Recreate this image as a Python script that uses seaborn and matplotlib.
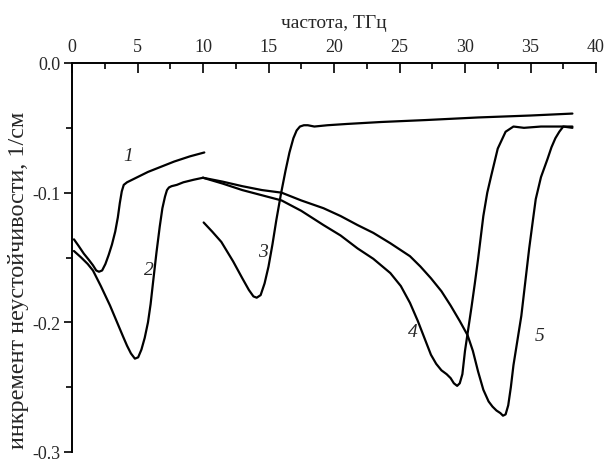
import matplotlib
matplotlib.use("Agg")
import matplotlib.pyplot as plt
import seaborn as sns
from matplotlib.ticker import MultipleLocator

sns.set_theme(style="white")
plt.rcParams['font.family'] = ['Liberation Serif', 'DejaVu Serif']

# ---- data ----
x1 = [0.15, 0.5, 0.9, 1.3, 1.6, 1.85, 2.06, 2.3, 2.55, 2.8, 3.05, 3.3, 3.5, 3.65, 3.8,
      3.95, 4.2, 4.6, 5.2, 5.8, 6.8, 7.8, 9.0, 10.1]
y1 = [-0.136, -0.141, -0.147, -0.152, -0.156, -0.160, -0.161, -0.160, -0.155, -0.148,
      -0.140, -0.130, -0.119, -0.108, -0.099, -0.094, -0.092, -0.090, -0.087, -0.084,
      -0.080, -0.076, -0.072, -0.069]

x2 = [0.15, 0.7, 1.2, 1.6, 2.2, 2.9, 3.4, 3.9, 4.2, 4.5, 4.8, 5.05, 5.3, 5.55, 5.8, 6.0,
      6.2, 6.45, 6.7, 6.9, 7.1, 7.25, 7.4, 7.6, 8.0, 8.5, 9.3, 10.0]
y2 = [-0.145, -0.150, -0.155, -0.160, -0.172, -0.187, -0.199, -0.211, -0.218, -0.224,
      -0.228, -0.227, -0.221, -0.212, -0.200, -0.186, -0.168, -0.146, -0.126, -0.112,
      -0.103, -0.098, -0.096, -0.095, -0.094, -0.092, -0.090, -0.0885]

x3 = [10.05, 10.7, 11.4, 12.3, 13.0, 13.5, 13.85, 14.1, 14.4, 14.7, 15.0, 15.3, 15.6,
      15.95, 16.3, 16.6, 16.9, 17.15, 17.4, 17.7, 18.0, 18.5, 19.5, 21.0, 23.6, 27.0,
      31.0, 35.0, 38.2]
y3 = [-0.123, -0.130, -0.138, -0.153, -0.166, -0.175, -0.180, -0.181, -0.179, -0.170,
      -0.157, -0.140, -0.121, -0.101, -0.083, -0.069, -0.058, -0.052, -0.049, -0.048,
      -0.048, -0.049, -0.048, -0.047, -0.0455, -0.044, -0.042, -0.0405, -0.039]

x4 = [10.0, 11.5, 13.0, 14.5, 16.0, 17.5, 19.2, 20.5, 21.8, 23.0, 24.3, 25.1, 25.8,
      26.4, 26.9, 27.4, 27.8, 28.2, 28.6, 28.9, 29.15, 29.4, 29.6, 29.8, 30.0, 30.25,
      30.5, 30.75, 31.0, 31.4, 31.7, 32.0, 32.5, 33.1, 33.7, 34.5, 35.8, 38.2]
y4 = [-0.0885, -0.093, -0.098, -0.102, -0.106, -0.114, -0.125, -0.133, -0.143, -0.151,
      -0.162, -0.172, -0.185, -0.199, -0.212, -0.225, -0.232, -0.237, -0.240, -0.243,
      -0.247, -0.249, -0.247, -0.240, -0.222, -0.205, -0.188, -0.170, -0.151, -0.118,
      -0.100, -0.087, -0.066, -0.053, -0.049, -0.050, -0.049, -0.049]

x5 = [10.0, 11.5, 13.0, 14.5, 16.0, 17.5, 19.2, 20.5, 21.8, 23.0, 24.3, 25.8, 26.6,
      27.4, 28.2, 28.9, 29.6, 30.2, 30.6, 31.0, 31.4, 31.8, 32.1, 32.4, 32.7, 32.9, 33.1,
      33.3, 33.5, 33.7, 34.0, 34.3, 34.6, 34.9, 35.2, 35.4, 35.8, 36.3, 36.6, 36.9, 37.2,
      37.5, 38.2]
y5 = [-0.0885, -0.0915, -0.095, -0.098, -0.100, -0.106, -0.112, -0.118, -0.125, -0.131,
      -0.139, -0.149, -0.157, -0.166, -0.176, -0.187, -0.199, -0.210, -0.222, -0.238,
      -0.252, -0.261, -0.265, -0.268, -0.270, -0.272, -0.271, -0.264, -0.250, -0.233,
      -0.214, -0.195, -0.169, -0.143, -0.120, -0.105, -0.088, -0.074, -0.065, -0.058,
      -0.053, -0.049, -0.050]

curve_labels = ["1", "2", "3", "4", "5"]
label_x = [4.3, 5.9, 14.6, 26.0, 35.7]
label_y = [-0.071, -0.159, -0.145, -0.207, -0.210]

xticks = [0, 5, 10, 15, 20, 25, 30, 35, 40]
yticks = [0.0, -0.1, -0.2, -0.3]
ytick_labels = ["0.0", "-0.1", "-0.2", "-0.3"]

# ---- figure ----
fig = plt.figure(figsize=(6.06, 4.64), dpi=100)
ax = fig.add_axes([72/606, 1 - 453/464, (596 - 72)/606, (453 - 64)/464])

for xs, ys in [(x1, y1), (x2, y2), (x3, y3), (x4, y4), (x5, y5)]:
    sns.lineplot(x=xs, y=ys, sort=False, color="black", linewidth=1.6, ax=ax)

for t, lx, ly in zip(curve_labels, label_x, label_y):
    ax.text(lx, ly, t, fontsize=14, fontstyle="italic", ha="center", va="center")

ax.set_xlim(0, 40)
ax.set_ylim(-0.3, 0.0)

ax.xaxis.tick_top()
ax.xaxis.set_label_position("top")
ax.set_xticks(xticks)
ax.set_xticklabels([str(v) for v in xticks])
ax.xaxis.set_minor_locator(MultipleLocator(2.5))
ax.set_yticks(yticks)
ax.set_yticklabels(ytick_labels)
ax.yaxis.set_minor_locator(MultipleLocator(0.05))

ax.tick_params(axis="x", which="major", direction="in", length=7, width=1.2,
               labelsize=13, pad=6, top=True, bottom=False, color="black")
ax.tick_params(axis="x", which="minor", direction="in", length=4, width=1.2,
               top=True, bottom=False, color="black")
ax.tick_params(axis="y", which="major", direction="out", length=6, width=1.2,
               labelsize=13, pad=2, left=True, color="black")
ax.tick_params(axis="y", which="minor", direction="out", length=4, width=1.2,
               left=True, color="black")

for side in ["bottom", "right"]:
    ax.spines[side].set_visible(False)
for side in ["top", "left"]:
    ax.spines[side].set_visible(True)
    ax.spines[side].set_color("black")
    ax.spines[side].set_linewidth(1.4)

ax.set_xlabel("частота, ТГц", fontsize=14, labelpad=8)
ax.set_ylabel("инкремент неустойчивости, 1/см", fontsize=17.5, labelpad=4)
ax.yaxis.set_label_coords(-0.083, 0.445)
ax.grid(False)
ax.set_facecolor("white")
fig.patch.set_facecolor("white")

fig.savefig("out.png", dpi=100, facecolor="white")
